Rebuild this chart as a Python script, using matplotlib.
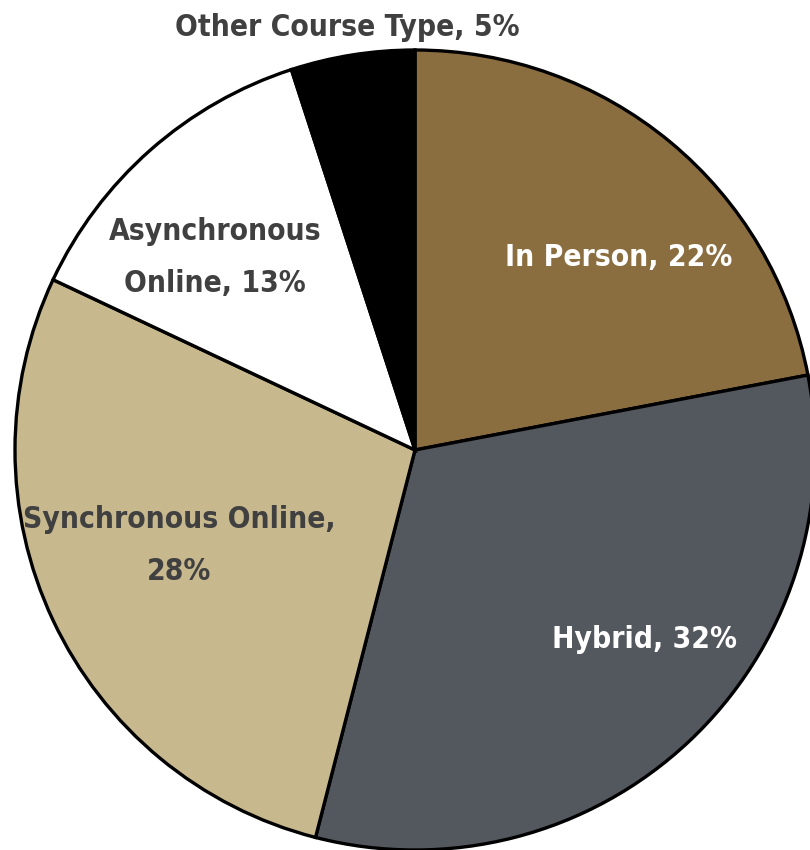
import matplotlib.pyplot as plt

# ==========================================================
# Data
# ==========================================================

labels = ["In Person", "Hybrid", "Synchronous Online",
          "Asynchronous Online", "Other Course Type"]
shares = [22, 32, 28, 13, 5]

# label text (line breaks as in the chart)
label_texts = ["In Person, 22%", "Hybrid, 32%", "Synchronous Online,\n28%",
               "Asynchronous\nOnline, 13%", "Other Course Type, 5%"]

colors = ["#8B6E3F", "#53575E", "#C8B88E", "#FFFFFF", "#000000"]
text_colors = ["white", "white", "#404040", "#404040", "#404040"]

# label positions in pie units (radius = 1)
label_pos = [(0.51, 0.48), (0.575, -0.475), (-0.59, -0.24),
             (-0.50, 0.48), (-0.17, 1.055)]

# ==========================================================
# Figure
# ==========================================================

fig = plt.figure(figsize=(8.1, 8.5), dpi=100)
ax = fig.add_axes([15 / 810, 0.0, 800 / 810, 800 / 850])

ax.pie(
    shares,
    colors=colors,
    startangle=90,
    counterclock=False,
    radius=1.0,
    wedgeprops=dict(edgecolor="black", linewidth=2.4),
)

for txt, (x, y), c in zip(label_texts, label_pos, text_colors):
    ax.text(x, y, txt, ha="center", va="center", color=c,
            fontsize=21.5, fontweight="bold", fontstretch="condensed",
            family="DejaVu Sans", linespacing=2.0, clip_on=False)

ax.set_xlim(-1, 1)
ax.set_ylim(-1, 1)
ax.set_aspect("equal")
ax.axis("off")

fig.savefig("out.png", dpi=100)
